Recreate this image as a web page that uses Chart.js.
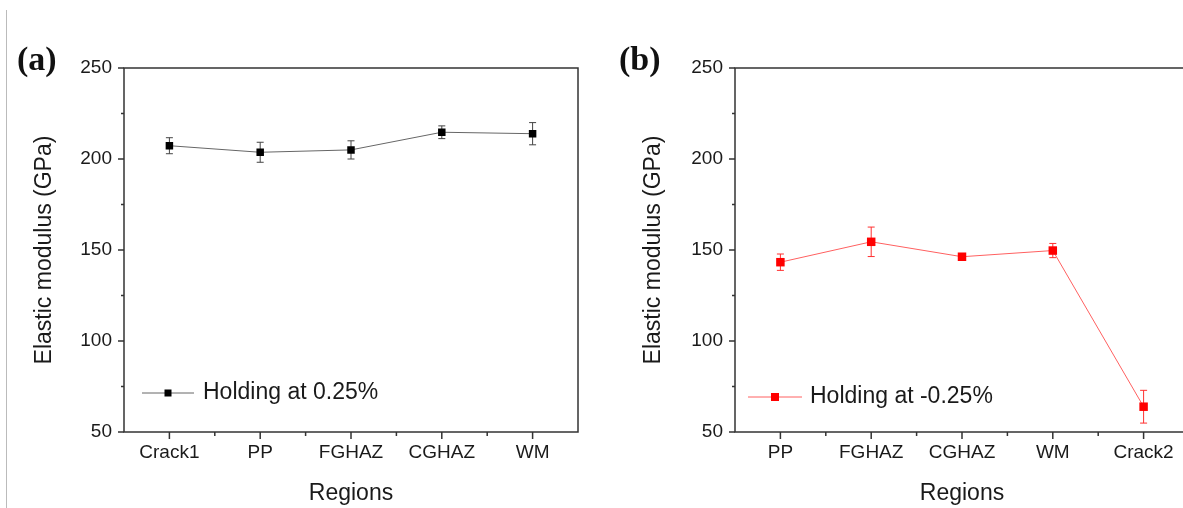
<!DOCTYPE html>
<html>
<head>
<meta charset="utf-8">
<script src="https://cdn.jsdelivr.net/npm/chart.js@4.4.1/dist/chart.umd.min.js"></script>
<style>
  html, body { margin: 0; padding: 0; background: #fff; overflow: hidden; width: 1183px; height: 508px; }
  .panel { position: absolute; top: 0; width: 600px; height: 508px; }
  .tag { position: absolute; font: bold 34px "Liberation Serif", serif; color: #111; line-height: 1; }
  .sep { position: absolute; left: 6px; top: 10px; width: 1px; height: 498px; background: #bbb; }
</style>
</head>
<body>
<div class="sep"></div>
<div class="panel" style="left:0"><canvas id="chartA" width="600" height="508"></canvas></div>
<div class="panel" style="left:600px"><canvas id="chartB" width="600" height="508"></canvas></div>
<div class="tag" style="left:17px;top:42px">(a)</div>
<div class="tag" style="left:619px;top:42px">(b)</div>

<script>
// values
const regionsA = ["Crack1", "PP", "FGHAZ", "CGHAZ", "WM"];
const modulusA = [207.3, 203.7, 205.0, 214.7, 213.9];
const errorA = [4.4, 5.5, 5.0, 3.5, 6.1];

const regionsB = ["PP", "FGHAZ", "CGHAZ", "WM", "Crack2"];
const modulusB = [143.3, 154.5, 146.3, 149.7, 63.9];
const errorB = [4.5, 8.1, 1.0, 3.9, 9.0];

const yTicks = [50, 100, 150, 200, 250];
const yMinorTicks = [75, 125, 175, 225];

const axisColor = "#333";
const textColor = "#1a1a1a";

// box + tick marks, drawn by hand so minor ticks can be shorter
const frame = {
  id: "frame",
  afterDraw(chart) {
    const { ctx, chartArea: a, scales: { x, y } } = chart;
    ctx.save();
    ctx.strokeStyle = axisColor;
    ctx.lineWidth = 1.5;
    ctx.strokeRect(a.left, a.top, a.right - a.left, a.bottom - a.top);
    ctx.beginPath();
    yTicks.forEach(v => {
      const py = y.getPixelForValue(v);
      ctx.moveTo(a.left, py); ctx.lineTo(a.left - 6, py);
    });
    yMinorTicks.forEach(v => {
      const py = y.getPixelForValue(v);
      ctx.moveTo(a.left, py); ctx.lineTo(a.left - 3, py);
    });
    const n = chart.data.labels.length;
    for (let i = 0; i < n; i++) {
      const px = x.getPixelForValue(i);
      ctx.moveTo(px, a.bottom); ctx.lineTo(px, a.bottom + 7);
      if (i < n - 1) {
        const mid = (px + x.getPixelForValue(i + 1)) / 2;
        ctx.moveTo(mid, a.bottom); ctx.lineTo(mid, a.bottom + 4);
      }
    }
    ctx.stroke();
    ctx.restore();
  }
};

const errorBars = {
  id: "errorBars",
  beforeDatasetsDraw(chart, args, opts) {
    const { ctx, scales: { y } } = chart;
    chart.data.datasets.forEach((ds, di) => {
      const meta = chart.getDatasetMeta(di);
      ctx.save();
      ctx.strokeStyle = ds.errorColor;
      ctx.lineWidth = 1;
      ctx.beginPath();
      meta.data.forEach((pt, i) => {
        const v = ds.data[i], e = ds.errors[i];
        const top = y.getPixelForValue(v + e);
        const bot = y.getPixelForValue(v - e);
        ctx.moveTo(pt.x, top); ctx.lineTo(pt.x, bot);
        ctx.moveTo(pt.x - 3.5, top); ctx.lineTo(pt.x + 3.5, top);
        ctx.moveTo(pt.x - 3.5, bot); ctx.lineTo(pt.x + 3.5, bot);
      });
      ctx.stroke();
      ctx.restore();
    });
  }
};

const insideLegend = {
  id: "insideLegend",
  afterDraw(chart, args, opts) {
    const { ctx, chartArea: a } = chart;
    const ds = chart.data.datasets[0];
    const yy = a.bottom - opts.dy;
    const x0 = a.left + opts.x0, x1 = a.left + opts.x1;
    ctx.save();
    ctx.strokeStyle = ds.borderColor;
    ctx.lineWidth = 1;
    ctx.beginPath();
    ctx.moveTo(x0, yy); ctx.lineTo(x1, yy);
    ctx.stroke();
    ctx.fillStyle = ds.pointBackgroundColor;
    const s = opts.box;
    ctx.fillRect((x0 + x1) / 2 - s / 2, yy - s / 2, s, s);
    ctx.fillStyle = textColor;
    ctx.font = '23px "Liberation Sans", Arial, sans-serif';
    ctx.textBaseline = "middle";
    ctx.fillText(ds.label, a.left + opts.tx, yy);
    ctx.restore();
  }
};

function makeChart(id, labels, values, errors, opts) {
  return new Chart(document.getElementById(id), {
    type: "line",
    data: {
      labels: labels,
      datasets: [{
        label: opts.label,
        data: values,
        errors: errors,
        errorColor: opts.errorColor,
        borderColor: opts.lineColor,
        borderWidth: 1,
        pointStyle: "rect",
        pointRadius: opts.radius,
        pointBackgroundColor: opts.markColor,
        pointBorderColor: opts.markColor,
        pointBorderWidth: 0,
        tension: 0,
        fill: false
      }]
    },
    options: {
      responsive: false,
      animation: false,
      events: [],
      layout: { padding: { left: 0, top: 68, right: opts.padRight, bottom: 0 } },
      plugins: {
        legend: { display: false },
        tooltip: { enabled: false },
        insideLegend: opts.legend
      },
      scales: {
        x: {
          type: "category",
          offset: true,
          grid: { display: false, drawTicks: false },
          border: { display: false },
          ticks: { color: textColor, padding: 9, font: { family: '"Liberation Sans", Arial, sans-serif', size: 19 } },
          title: { display: true, text: "Regions", color: textColor, padding: { top: 0, bottom: 1 },
                   font: { family: '"Liberation Sans", Arial, sans-serif', size: 23 } },
          afterFit: s => { s.height = 76; }
        },
        y: {
          min: 50, max: 250,
          grid: { display: false, drawTicks: false },
          border: { display: false },
          afterBuildTicks: s => { s.ticks = yTicks.map(v => ({ value: v })); },
          ticks: { color: textColor, padding: 12, font: { family: '"Liberation Sans", Arial, sans-serif', size: 19 } },
          title: { display: true, text: "Elastic modulus (GPa)", color: textColor, padding: { top: opts.titlePad, bottom: 0 },
                   font: { family: '"Liberation Sans", Arial, sans-serif', size: 23 } },
          afterFit: s => { s.width = opts.axisLeft; }
        }
      }
    },
    plugins: [frame, errorBars, insideLegend]
  });
}

makeChart("chartA", regionsA, modulusA, errorA, {
  label: "Holding at 0.25%",
  lineColor: "#666",
  markColor: "#000",
  errorColor: "#444",
  radius: 5.3,
  axisLeft: 124,
  padRight: 22,
  titlePad: 31,
  legend: { x0: 18, x1: 70, tx: 79, dy: 39, box: 7 }
});

makeChart("chartB", regionsB, modulusB, errorB, {
  label: "Holding at -0.25%",
  lineColor: "#ff6060",
  markColor: "#ff0000",
  errorColor: "#ff3030",
  radius: 6,
  axisLeft: 135,
  padRight: 11,
  titlePad: 40,
  legend: { x0: 13, x1: 67, tx: 75, dy: 35, box: 8 }
});
</script>
</body>
</html>
